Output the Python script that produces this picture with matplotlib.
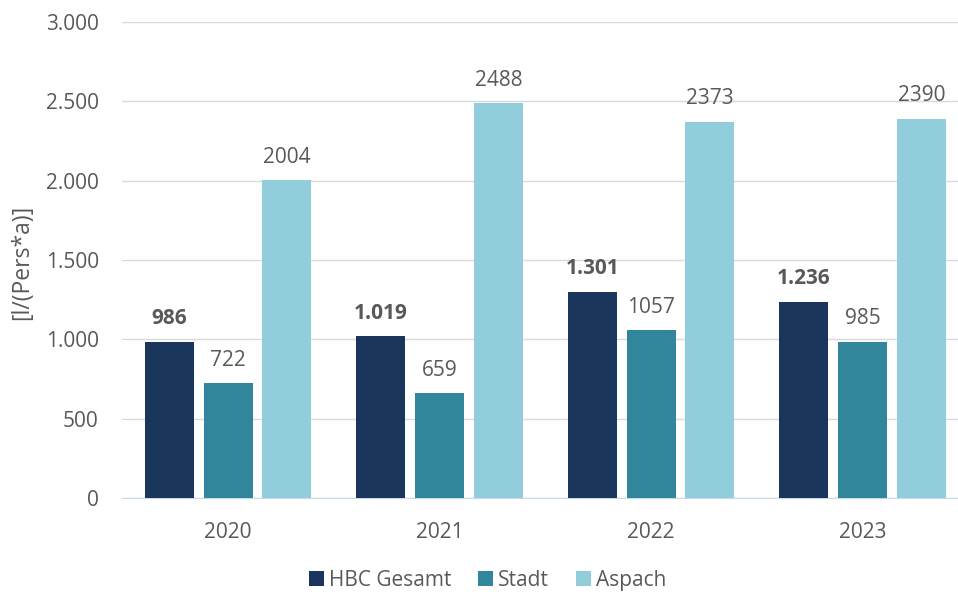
import matplotlib.pyplot as plt
import numpy as np

# data
years = ['2020', '2021', '2022', '2023']
hbc_gesamt = [986, 1019, 1301, 1236]
stadt = [722, 659, 1057, 985]
aspach = [2004, 2488, 2373, 2390]

series = [('HBC Gesamt', hbc_gesamt, '#1a365d'),
          ('Stadt', stadt, '#31869b'),
          ('Aspach', aspach, '#92cddc')]

def de_fmt(v):
    return f"{v:,.0f}".replace(',', '.')

plt.rcParams['font.family'] = ['Open Sans', 'DejaVu Sans']
txt = '#595959'
fs = 15

fig = plt.figure(figsize=(9.58, 5.97), dpi=100)
# plot area runs past the right edge of the image, like the original
ax = fig.add_axes([0.1277, 0.166, 0.883, 0.797])

x = np.arange(len(years))
w = 0.232
step = 0.278
for i, (name, vals, col) in enumerate(series):
    pos = x + (i - 1) * step
    bars = ax.bar(pos, vals, width=w, color=col, label=name, zorder=3)
    for b, v in zip(bars, vals):
        if i == 0:
            s, fw = de_fmt(v), 'bold'
        else:
            s, fw = str(v), 'normal'
        ax.annotate(s, (b.get_x() + b.get_width() / 2, v), xytext=(0, 9),
                    textcoords='offset points', ha='center', va='bottom',
                    fontsize=fs, color=txt, fontweight=fw)

ax.set_xlim(-0.5, 3.5)
ax.set_ylim(0, 3000)
ax.set_yticks(range(0, 3001, 500))
ax.set_yticklabels([de_fmt(v) for v in range(0, 3001, 500)])
ax.set_xticks(x)
ax.set_xticklabels(years)
ax.tick_params(axis='both', length=0, labelsize=fs, labelcolor=txt)
ax.tick_params(axis='y', pad=17)
ax.tick_params(axis='x', pad=17)
ax.grid(axis='y', color='#d9d9d9', linewidth=1, zorder=0)
for s in ['top', 'right', 'left']:
    ax.spines[s].set_visible(False)
ax.spines['bottom'].set_color('#c9d9ec')

fig.text(0.023, 0.561, '[l/(Pers*a)]', rotation=90, ha='center', va='center',
         fontsize=16.5, color=txt)

h, l = ax.get_legend_handles_labels()
fig.legend(h, l, loc='center', bbox_to_anchor=(0.509, 0.028), ncol=3, frameon=False,
           fontsize=fs, labelcolor=txt, handlelength=0.7, handleheight=0.7,
           handletextpad=0.25, columnspacing=1.3)

fig.savefig('out.png', dpi=100)
